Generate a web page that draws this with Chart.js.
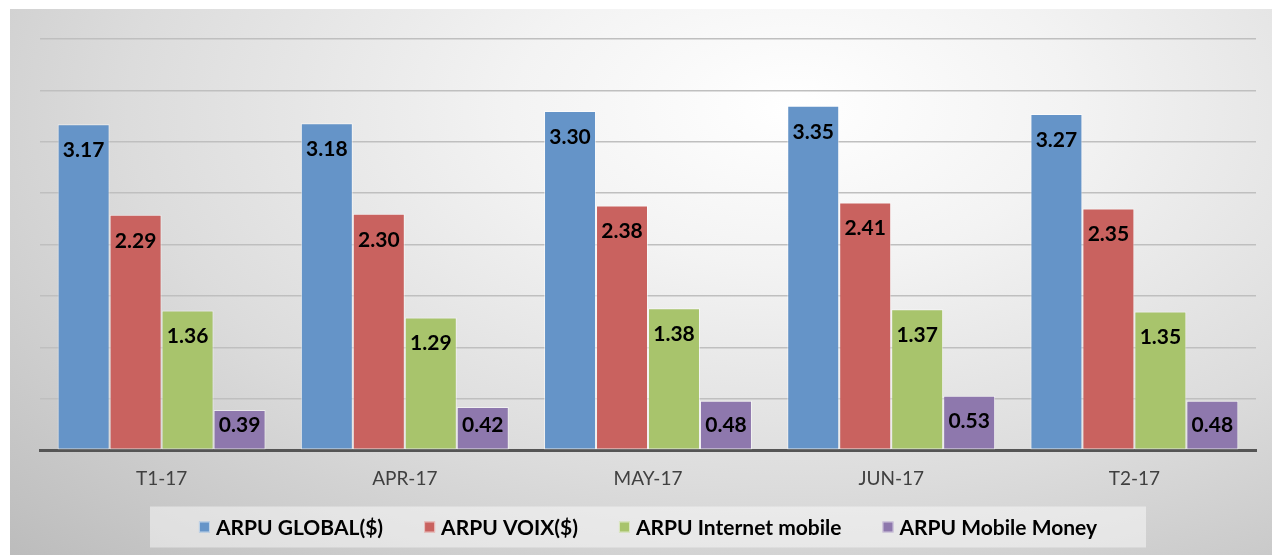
<!DOCTYPE html>
<html>
<head>
<meta charset="utf-8">
<script src="https://cdn.jsdelivr.net/npm/chart.js@4.4.1/dist/chart.umd.min.js"></script>
<style>
  html, body { margin: 0; padding: 0; background: #ffffff; }
  body { width: 1272px; height: 555px; position: relative; overflow: hidden; }
  #panel {
    position: absolute; left: 10px; top: 9px; width: 1262px; height: 546px;
    background: radial-gradient(farthest-corner at 62% 18%, #ffffff 0%, #f3f3f3 25%, #dcdcdc 60%, #bcbcbc 100%);
  }
  #c { position: absolute; left: 0; top: 0; }
</style>
</head>
<body>
<div id="panel"><canvas id="c" width="1262" height="546"></canvas></div>
<script>
const categories = ["T1-17", "APR-17", "MAY-17", "JUN-17", "T2-17"];
const arpuGlobal = [3.17, 3.18, 3.30, 3.35, 3.27];
const arpuVoix = [2.29, 2.30, 2.38, 2.41, 2.35];
const arpuInternet = [1.36, 1.29, 1.38, 1.37, 1.35];
const arpuMoney = [0.39, 0.42, 0.48, 0.53, 0.48];
const seriesNames = ["ARPU GLOBAL($)", "ARPU VOIX($)", "ARPU Internet mobile", "ARPU Mobile Money"];
const seriesColors = ["#6594c8", "#c9625f", "#a8c46c", "#8e78ad"];

const FONT = "Lato, 'Open Sans', sans-serif";

const labelPlugin = {
  id: 'barLabels',
  afterDatasetsDraw(chart) {
    const ctx = chart.ctx;
    ctx.save();
    ctx.font = "bold 21px " + FONT;
    ctx.fillStyle = "#000000";
    ctx.textAlign = "center";
    ctx.textBaseline = "middle";
    chart.data.datasets.forEach((ds, i) => {
      const meta = chart.getDatasetMeta(i);
      meta.data.forEach((bar, j) => {
        const y = Math.min(bar.y + 26, bar.base - 24);
        ctx.fillText(ds.data[j].toFixed(2), bar.x, y);
      });
    });
    ctx.restore();
  }
};

// Custom legend drawn below the axis, inside a light box
const customLegend = {
  id: 'customLegend',
  afterDraw(chart) {
    const ctx = chart.ctx;
    const ds = chart.data.datasets;
    ctx.save();
    ctx.font = "bold 21px " + FONT;
    const box = 11, gapText = 6, gapItem = 41;
    const widths = ds.map(d => ctx.measureText(d.label).width);
    let total = 0;
    widths.forEach((w, i) => { total += box + gapText + w + (i < widths.length - 1 ? gapItem : 0); });
    const cx = 638;
    const cy = 518;
    ctx.fillStyle = "rgba(255,255,255,0.45)";
    ctx.fillRect(140, cy - 20.5, 996, 41);
    let x = cx - total / 2;
    ctx.textBaseline = "middle";
    ctx.textAlign = "left";
    ds.forEach((d, i) => {
      ctx.fillStyle = d.backgroundColor;
      ctx.fillRect(x, cy - box / 2, box, box);
      ctx.strokeStyle = "rgba(255,255,255,0.6)";
      ctx.lineWidth = 1;
      ctx.strokeRect(x + 0.5, cy - box / 2 + 0.5, box - 1, box - 1);
      ctx.fillStyle = "#000000";
      ctx.fillText(d.label, x + box + gapText, cy + 1);
      x += box + gapText + widths[i] + gapItem;
    });
    ctx.restore();
  }
};

new Chart(document.getElementById('c'), {
  type: 'bar',
  data: {
    labels: categories,
    datasets: [arpuGlobal, arpuVoix, arpuInternet, arpuMoney].map((d, i) => ({
      label: seriesNames[i],
      data: d,
      backgroundColor: seriesColors[i],
      borderColor: "rgba(255,255,255,0.55)",
      borderWidth: 1,
      borderSkipped: false,
      categoryPercentage: 0.855,
      barPercentage: 1.0
    }))
  },
  options: {
    responsive: false,
    animation: false,
    devicePixelRatio: 1,
    layout: { padding: { left: 30, right: 16, top: 30, bottom: 48 } },
    plugins: {
      title: { display: false },
      tooltip: { enabled: false },
      legend: { display: false }
    },
    scales: {
      x: {
        grid: { display: false, drawTicks: false },
        border: { display: true, color: "#555555", width: 3 },
        ticks: { color: "#404040", font: { family: FONT, size: 19 }, padding: 17 }
      },
      y: {
        min: 0, max: 4,
        ticks: { display: false, stepSize: 0.5 },
        grid: { color: "#bfbfbf", lineWidth: 1.5, drawTicks: false },
        border: { display: false }
      }
    }
  },
  plugins: [labelPlugin, customLegend]
});
</script>
</body>
</html>
